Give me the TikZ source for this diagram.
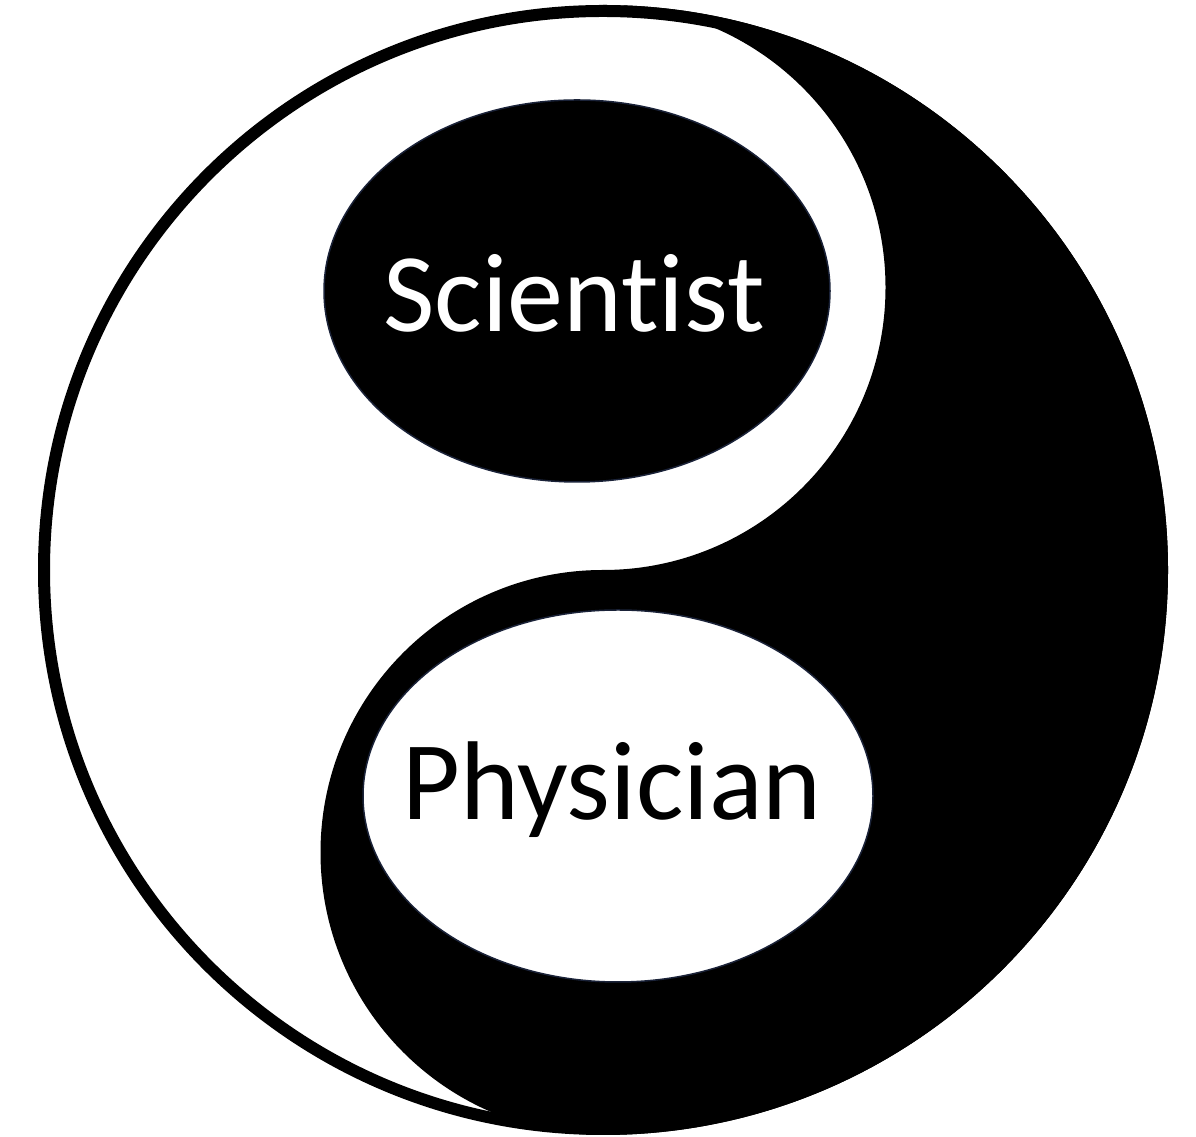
\documentclass[tikz,border=0pt]{standalone}
\usepackage{fontspec}
\setmainfont{Carlito}[Ligatures={NoCommon,NoRare,NoContextual}]
\usetikzlibrary{shapes.geometric}
\definecolor{rimnavy}{HTML}{1A2238}
\begin{document}
\begin{tikzpicture}[x=1pt,y=1pt,
  yinfill/.style={fill=black},
  rim/.style={draw=black,line width=12pt},
  oval/.style={ellipse,draw=rimnavy,line width=1.5pt,inner sep=0pt},
  label/.style={anchor=base,font=\fontsize{112}{112}\selectfont}]
\useasboundingbox[fill=white] (0,0) rectangle (1196,1137);
% outer ring
\coordinate (c) at (603,567);
\draw[rim] (c) circle[radius=559];
% black S-shaped half
\fill[yinfill] (603,1132) arc[start angle=90,end angle=-90,radius=565]
  arc[start angle=270,end angle=90,radius=282.5]
  arc[start angle=-90,end angle=90,radius=282.5] -- cycle;
% ovals
\node[oval,fill=black,minimum width=506pt,minimum height=382pt] (sciov) at (577,846) {};
\node[oval,fill=white,minimum width=510pt,minimum height=372pt] (phyov) at (618,341) {};
% labels
\node[label,text=white] (sci) at (574,805) {Scientist};
\node[label,text=black] (phy) at (612,317) {Physician};
\end{tikzpicture}
\end{document}
